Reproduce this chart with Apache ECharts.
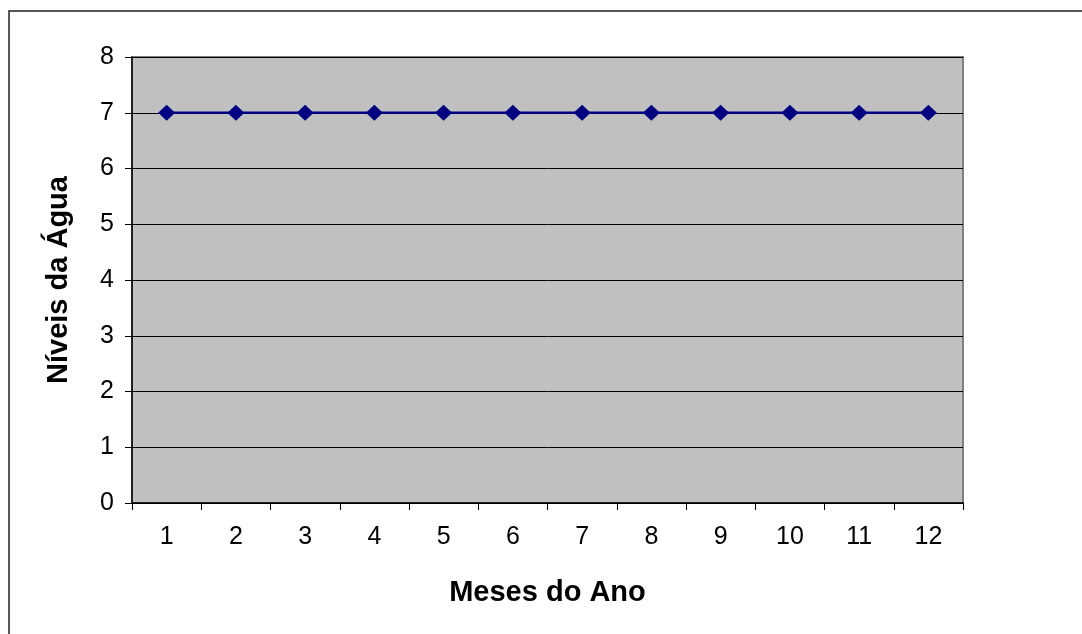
<!DOCTYPE html>
<html>
<head>
<meta charset="utf-8">
<script src="https://cdn.jsdelivr.net/npm/echarts@6/dist/echarts.min.js"></script>
<style>
html,body{margin:0;padding:0;background:#fff;}
#chart{width:1082px;height:634px;}
</style>
</head>
<body>
<div id="chart"></div>
<script>
const months = ['1','2','3','4','5','6','7','8','9','10','11','12'];
const levels = [7,7,7,7,7,7,7,7,7,7,7,7];
const yTicks = [0,1,2,3,4,5,6,7,8];

const chart = echarts.init(document.getElementById('chart'), null, {renderer:'canvas'});
const font = '"Liberation Sans", Arial, sans-serif';
chart.setOption({
  animation:false,
  backgroundColor:'#fff',
  graphic:[{
    type:'rect', z:-1,
    shape:{x:9, y:11, width:1200, height:800},
    style:{fill:null, stroke:'#222', lineWidth:1.5}
  }],
  grid:{left:132, top:57, right:119, bottom:131, show:true, backgroundColor:'#c0c0c0', borderColor:'#808080', borderWidth:2},
  xAxis:{
    type:'category', data:months, boundaryGap:true,
    name:'Meses do Ano', nameLocation:'middle', nameGap:75,
    nameTextStyle:{fontFamily:font, fontSize:29, fontWeight:'bold', color:'#000'},
    axisLine:{lineStyle:{color:'#000', width:1.5}},
    axisTick:{show:true, length:7, alignWithLabel:false, lineStyle:{color:'#000'}},
    axisLabel:{fontFamily:font, fontSize:25, color:'#000', margin:22},
    splitLine:{show:false}
  },
  yAxis:{
    type:'value', min:yTicks[0], max:yTicks[yTicks.length-1], interval:1,
    name:'Níveis da Água', nameLocation:'middle', nameGap:59,
    nameTextStyle:{fontFamily:font, fontSize:29, fontWeight:'bold', color:'#000'},
    axisLine:{show:true, lineStyle:{color:'#000', width:1.5}},
    axisTick:{show:true, length:7, lineStyle:{color:'#000'}},
    axisLabel:{fontFamily:font, fontSize:25, color:'#000', margin:18},
    splitLine:{show:true, lineStyle:{color:'#000', width:1}}
  },
  series:[{
    type:'line', data:levels,
    symbol:'diamond', symbolSize:[17,16],
    lineStyle:{color:'#000080', width:2.5},
    itemStyle:{color:'#000080'}
  }]
});
</script>
</body>
</html>
